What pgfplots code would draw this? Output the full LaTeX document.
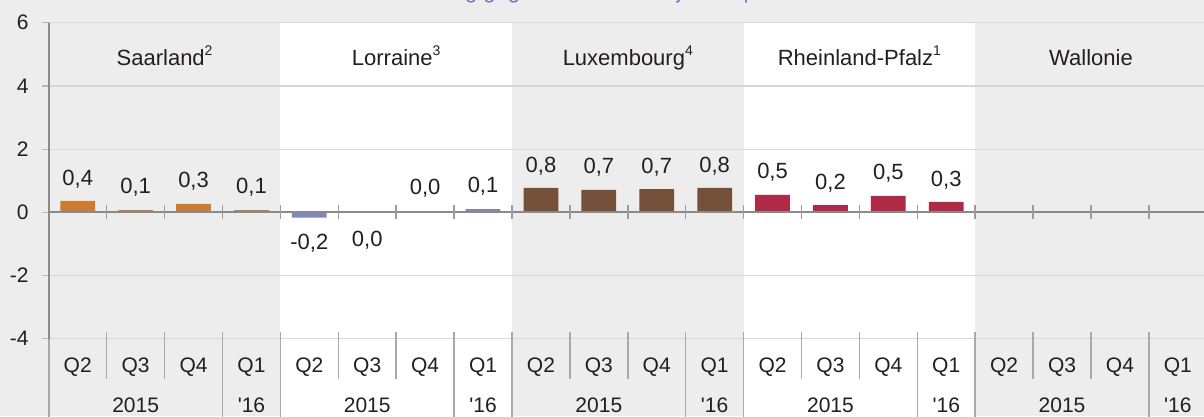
\documentclass[border=0pt]{standalone}
\usepackage{pgfplots}
\usepackage{pgfplotstable}
\pgfplotsset{compat=1.18}
\usepackage{fontspec}
\setmainfont{Liberation Sans}
\definecolor{bg}{HTML}{ECEDEC}
\definecolor{gridc}{HTML}{D6D7D6}
\definecolor{zeroc}{HTML}{8A8A8A}
\definecolor{sepc}{HTML}{A9A9A9}
\definecolor{txt}{HTML}{231F20}
\definecolor{saar}{HTML}{CD7A32}
\definecolor{lorr}{HTML}{7F86BE}
\definecolor{luxc}{HTML}{75503A}
\definecolor{rlp}{HTML}{B02945}
\definecolor{titlec}{HTML}{7B74C2}
\newcommand\fnsup[1]{\raisebox{0.42em}{\fontsize{14}{14}\selectfont #1}}
\newcommand\fbig{\fontsize{22}{26}\selectfont}
\newcommand\fmid{\fontsize{21}{25}\selectfont}

\pgfplotstableread{
x y
0 0.36
1 0.07
2 0.27
3 0.07
}\saardata
\pgfplotstableread{
x y
4 -0.17
5 0.0
6 0.0
7 0.10
}\lorrdata
\pgfplotstableread{
x y
8 0.77
9 0.71
10 0.73
11 0.77
}\luxdata
\pgfplotstableread{
x y
12 0.55
13 0.23
14 0.52
15 0.33
}\rlpdata
\pgfplotstableread{
x y label
0 0.86 0,4
1 0.61 0,1
2 0.80 0,3
3 0.61 0,1
4 -1.19 -0,2
5 -1.09 0,0
6 0.55 0,0
7 0.62 0,1
8 1.26 0,8
9 1.22 0,7
10 1.22 0,7
11 1.26 0,8
12 1.07 0,5
13 0.73 0,2
14 1.04 0,5
15 0.83 0,3
}\labeldata

\begin{document}
\fmid
\color{txt}%
\begin{tikzpicture}
\fill[bg] (0pt,0pt) rectangle (1204pt,416pt);
\fill[white] (280.4pt,0pt) rectangle (512pt,393.3pt);
\fill[white] (743.6pt,0pt) rectangle (975.2pt,393.3pt);
\begin{axis}[
  at={(48.8pt,77.3pt)}, anchor=south west,
  scale only axis, width=1158pt, height=316pt,
  xmin=-0.5, xmax=19.5, ymin=-4, ymax=6,
  clip=false,
  axis line style={draw=none},
  ytick={-4,-2,0,2,4,6},
  yticklabels={-4,-2,0,2,4,6},
  ytick pos=left,
  tick align=outside,
  major tick length=7pt,
  ytick style={draw=gridc!85!black, line width=1.2pt},
  yticklabel style={anchor=east, inner sep=0pt, xshift=-13pt, text=txt, font=\fmid},
  ymajorgrids,
  grid style={draw=gridc, line width=1.2pt},
  xtick={0,...,19},
  xticklabels={Q2,Q3,Q4,Q1,Q2,Q3,Q4,Q1,Q2,Q3,Q4,Q1,Q2,Q3,Q4,Q1,Q2,Q3,Q4,Q1},
  xtick style={draw=none},
  xticklabel style={anchor=base, inner sep=0pt, yshift=-27pt, text=txt, font=\fmid},
]
\addplot[ybar, bar width=0.6, bar shift=0pt, fill=saar, draw=none] table {\saardata};
\addplot[ybar, bar width=0.6, bar shift=0pt, fill=lorr, draw=none] table {\lorrdata};
\addplot[ybar, bar width=0.6, bar shift=0pt, fill=luxc, draw=none] table {\luxdata};
\addplot[ybar, bar width=0.6, bar shift=0pt, fill=rlp, draw=none] table {\rlpdata};

\addplot[draw=none, mark=none, point meta=explicit symbolic,
  nodes near coords={\pgfplotspointmeta},
  every node near coord/.append style={anchor=base, inner sep=0pt, text=txt, font=\fbig}]
  table[x=x, y=y, meta=label] {\labeldata};

% zero line and its ticks
\draw[zeroc, line width=2pt] (axis cs:-0.5,0) -- (axis cs:19.6,0);
\pgfplotsinvokeforeach{0.5,1.5,2.5,3.5,4.5,5.5,6.5,7.5,8.5,9.5,10.5,11.5,12.5,13.5,14.5,15.5,16.5,17.5,18.5}{
  \draw[zeroc!85, line width=1.5pt] (axis cs:#1,0.22) -- (axis cs:#1,-0.22);
}
% separators in the label area
\pgfplotsinvokeforeach{0.5,1.5,4.5,5.5,8.5,9.5,12.5,13.5,16.5,17.5}{
  \draw[sepc, line width=1.5pt] (axis cs:#1,-3.78) -- (axis cs:#1,-5.27);
}
\pgfplotsinvokeforeach{-0.5,2.5,3.5,6.5,7.5,10.5,11.5,14.5,15.5,18.5}{
  \draw[sepc, line width=1.5pt] (axis cs:#1,-3.78) -- (axis cs:#1,-7);
}
% y axis line
\draw[zeroc, line width=2pt] (axis cs:-0.5,6) -- (axis cs:-0.5,-4);

% year labels
\pgfplotsinvokeforeach{1,5,9,13,17}{
  \node[anchor=base, inner sep=0pt, font=\fmid] at (axis cs:#1,-6.34) {2015};
}
\pgfplotsinvokeforeach{3,7,11,15,19}{
  \node[anchor=base, inner sep=0pt, font=\fmid] at (axis cs:#1,-6.34) {\textquotesingle 16};
}
% group headers
\node[anchor=base, inner sep=0pt, font=\fbig] at (axis cs:1.5,4.66) {Saarland\fnsup{2}};
\node[anchor=base, inner sep=0pt, font=\fbig] at (axis cs:5.5,4.66) {Lorraine\fnsup{3}};
\node[anchor=base, inner sep=0pt, font=\fbig] at (axis cs:9.5,4.66) {Luxembourg\fnsup{4}};
\node[anchor=base, inner sep=0pt, font=\fbig] at (axis cs:13.5,4.66) {Rheinland-Pfalz\fnsup{1}};
\node[anchor=base, inner sep=0pt, font=\fbig] at (axis cs:17.5,4.66) {Wallonie};
\end{axis}
\node[anchor=base, inner sep=0pt, text=titlec, font=\fbig] at (602pt,417pt) {Veränderung gegenüber dem Vorjahresquartal in \%};
\pgfresetboundingbox
\useasboundingbox (0pt,0pt) rectangle (1204pt,416pt);
\end{tikzpicture}
\end{document}
